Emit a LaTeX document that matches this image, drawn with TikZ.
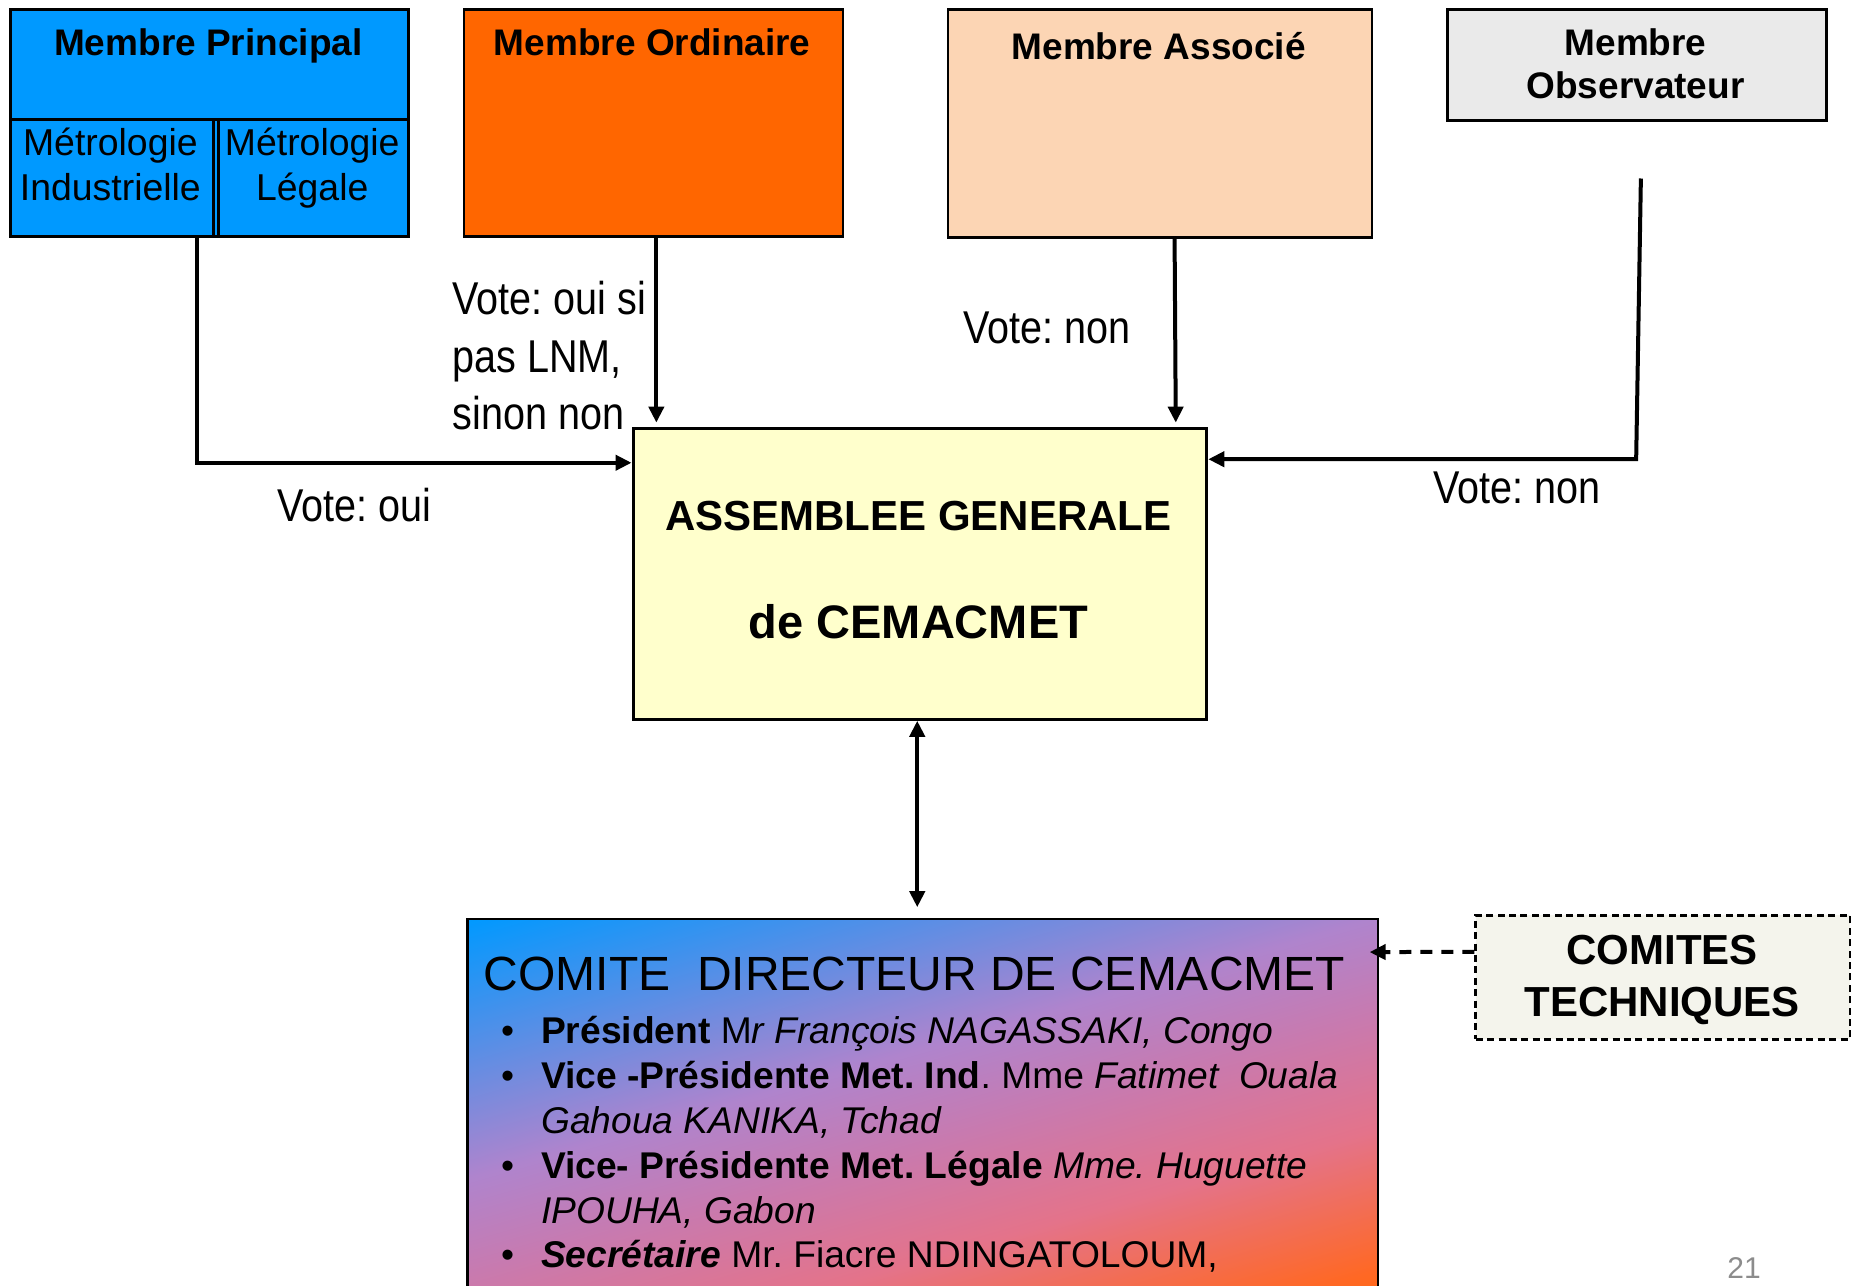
\documentclass[tikz,border=0pt]{standalone}
\usepackage{fontspec}
\setmainfont{Liberation Sans}
\newfontfamily\narrowfont[FakeStretch=0.86]{Liberation Sans}
\usetikzlibrary{arrows.meta,calc}
\newdimen\pxu \pxu=0.59025pt
\newcommand\mlc[1]{\begin{tabular}[t]{@{}c@{}}#1\end{tabular}}
\definecolor{mpblue}{RGB}{0,153,255}
\definecolor{moorange}{RGB}{255,102,0}
\definecolor{mapeach}{RGB}{252,213,180}
\definecolor{obsgrey}{RGB}{234,234,234}
\definecolor{agyellow}{RGB}{255,255,204}
\definecolor{ctfill}{RGB}{244,244,236}
\definecolor{gradblue}{RGB}{0,153,255}
\definecolor{gradmid}{RGB}{175,132,205}
\definecolor{gradctwo}{RGB}{200,122,175}
\definecolor{gradcthree}{RGB}{228,115,138}
\definecolor{gradcfour}{RGB}{255,104,36}
\definecolor{gradorange}{RGB}{255,102,0}
\definecolor{pagegrey}{RGB}{140,140,140}
\pgfdeclareverticalshading{cdshade}{100bp}{color(0bp)=(gradorange); color(25bp)=(gradorange); color(30.45bp)=(gradcfour); color(40.71bp)=(gradcthree); color(49.11bp)=(gradctwo); color(56.16bp)=(gradmid); color(75bp)=(gradblue); color(100bp)=(gradblue)}
\frenchspacing
\begin{document}
\begin{tikzpicture}[x=0.59025pt,y=-0.59025pt,
  box/.style={draw=black, line width=1.3pt, inner sep=0pt, anchor=north west},
  title/.style={anchor=base, inner sep=0pt, font=\bfseries\fontsize{18.5}{21.7}\selectfont},
  subt/.style={anchor=base, inner sep=0pt, font=\fontsize{18.7}{22.5}\selectfont},
  vote/.style={anchor=base west, inner sep=0pt, font=\narrowfont\fontsize{23}{28.9}\selectfont},
  conn/.style={line width=2pt, -{Triangle[length=8pt,width=7.5pt]}},
  dconn/.style={line width=2pt, {Triangle[length=8pt,width=7.5pt]}-{Triangle[length=8pt,width=7.5pt]}},
  dashconn/.style={line width=2pt, dash pattern=on 6pt off 4.5pt, -{Triangle[length=8pt,width=7.5pt]}},
  bul/.style={anchor=base, inner sep=0pt, font=\fontsize{18.6}{22.5}\selectfont},
  itemtxt/.style={anchor=base west, inner sep=0pt, font=\fontsize{18.6}{22.5}\selectfont}]
\useasboundingbox (0,0) rectangle (1568,1089);
\fill[white] (0,0) rectangle (1568,1089);

% Membre Principal
\node[box, fill=mpblue, minimum width={337*\pxu}, minimum height={192*\pxu}] (mp) at (8,7) {};
\node[box, minimum width={337*\pxu}, minimum height={93*\pxu}] (mptop) at (8,7) {};
\node[box, minimum width={172*\pxu}, minimum height={99*\pxu}] (mi) at (8,100) {};
\node[box, minimum width={161*\pxu}, minimum height={99*\pxu}] (ml) at (184,100) {};
\node[title] (tmp) at (176.5,46.6) {Membre Principal};
\node[subt] (tmi) at (93.5,131.3) {\mlc{Métrologie\\Industrielle}};
\node[subt] (tml) at (264.5,131.3) {\mlc{Métrologie\\Légale}};

% Membre Ordinaire
\node[box, fill=moorange, minimum width={321*\pxu}, minimum height={192*\pxu}] (mo) at (392,7) {};
\node[title] (tmo) at (552.5,46.6) {Membre Ordinaire};

% Membre Associe
\node[box, fill=mapeach, minimum width={359*\pxu}, minimum height={193*\pxu}] (ma) at (802,7) {};
\node[title] (tma) at (981.5,50.8) {Membre Associé};

% Membre Observateur
\node[box, fill=obsgrey, minimum width={321*\pxu}, minimum height={94*\pxu}] (mobs) at (1225,7) {};
\node[title] (tmobs) at (1385.5,46.6) {\mlc{Membre\\Observateur}};

% Assemblee generale
\node[box, line width=1.5pt, fill=agyellow, minimum width={486*\pxu}, minimum height={246*\pxu}] (ag) at (535,362) {};
\node[anchor=base, inner sep=0pt, font=\bfseries\fontsize{21}{25}\selectfont] (tag1) at (778,449) {ASSEMBLEE GENERALE};
\node[anchor=base, inner sep=0pt, font=\bfseries\fontsize{23.5}{28}\selectfont] (tag2) at (778,540.7) {de CEMACMET};

% Comite directeur (diagonal gradient, clipped to the box)
\node[box, draw=none, minimum width={769*\pxu}, minimum height={316*\pxu}] (cd) at (396,778.5) {};
\begin{scope}
  \clip (cd.north west) rectangle (cd.south east);
  \begin{scope}[transform canvas={rotate around={16:(cd.north west)}}]
    \shade[shading=cdshade] ($(cd.north west)+(-140,0)$) rectangle ($(cd.north west)+(800,560)$);
  \end{scope}
\end{scope}
\draw[line width=1.2pt] (cd.north west) rectangle (cd.south east);
\node[anchor=base west, inner sep=0pt, font=\fontsize{24}{28}\selectfont] (cdt) at (409.4,839.2) {COMITE\ \ DIRECTEUR DE CEMACMET};
\node[bul] (b1) at (430,884) {\textbullet};
\node[bul] (b2) at (430,922) {\textbullet};
\node[bul] (b3) at (430,998) {\textbullet};
\node[bul] (b4) at (430,1074) {\textbullet};
\node[itemtxt] (l1) at (458,884) {\textbf{Président} M\textit{r François NAGASSAKI, Congo}};
\node[itemtxt] (l2) at (458,922) {\textbf{Vice -Présidente Met. Ind}. Mme \textit{Fatimet\ \ Ouala}};
\node[itemtxt] (l3) at (458,960) {\textit{Gahoua KANIKA, Tchad}};
\node[itemtxt] (l4) at (458,998) {\textbf{Vice- Présidente Met. Légale} \textit{Mme. Huguette}};
\node[itemtxt] (l5) at (458,1036) {\textit{IPOUHA, Gabon}};
\node[itemtxt] (l6) at (458,1074) {\textbf{\textit{Secrétaire}} Mr. Fiacre NDINGATOLOUM,};

% Comites techniques
\node[box, line width=1.3pt, dash pattern=on 3.5pt off 2.2pt, fill=ctfill, minimum width={317*\pxu}, minimum height={105*\pxu}] (ct) at (1249,774.3) {};
\node[anchor=base, inner sep=0pt, font=\bfseries\fontsize{21}{26.3}\selectfont] (tct) at (1408,816.6) {\mlc{COMITES\\TECHNIQUES}};

% vote labels
\node[vote] (v1) at (383,266.3) {\begin{tabular}[t]{@{}l@{}}Vote: oui si\\pas LNM,\\sinon non\end{tabular}};
\node[vote] (v2) at (816,290.8) {Vote: non};
\node[vote] (v3) at (1214,426.4) {Vote: non};
\node[vote] (v4) at (234.5,441.9) {Vote: oui};

% page number
\node[anchor=base west, inner sep=0pt, text=pagegrey, font=\fontsize{15}{18}\selectfont] (pg) at (1463,1082.9) {21};

% connectors
\draw[conn] ($(mi.south west)+(159,0)$) |- ($(ag.north west)+(0,30)$);
\draw[conn] ($(mo.south west)+(164,0)$) -- ($(mo.south west |- ag.north)+(164,-4)$);
\draw[conn] ($(ma.south west)+(193,0)$) -- ($(ma.south west |- ag.north)+(194,-4)$);
\coordinate (obsstart) at ($(mobs.south west)+(165,48)$);
\draw[conn] (obsstart) -- ($(obsstart |- ag.north)+(-4,27)$) -- ($(ag.north east)+(0,27)$);
\draw[dconn] ($(ag.south west)+(242,0)$) -- ($(ag.south west |- cd.north)+(242,-10)$);
\draw[dashconn] ($(ct.north west)+(0,32)$) -- ($(cd.north east)+(-7,28)$);
\end{tikzpicture}
\end{document}
